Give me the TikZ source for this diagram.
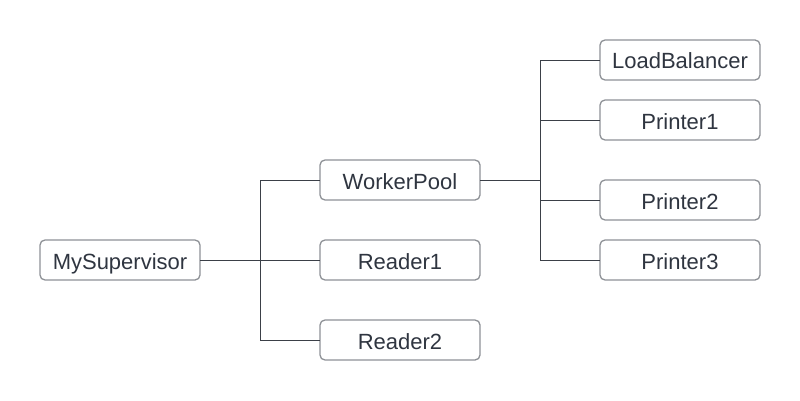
\documentclass[tikz,border=0pt]{standalone}
\usepackage{fontspec}
\setmainfont{Liberation Sans}
\usetikzlibrary{positioning}
\definecolor{boxline}{HTML}{8E9196}
\definecolor{wirecol}{HTML}{3B4048}
\definecolor{labcol}{HTML}{2F3540}

\begin{document}
\begin{tikzpicture} [x=1pt,y=1pt,font=\fontsize{22}{24}\selectfont]

\tikzstyle{proc}=[draw=boxline,line width=1.3pt,rounded corners=5pt,
  minimum width=160pt,minimum height=40pt,inner sep=0pt,outer sep=0pt,
  text height=18pt,text depth=0pt,text=labcol]
\tikzstyle{wire}=[draw=wirecol,line width=1pt]

 \useasboundingbox (0,0) rectangle (800,400);

 \node[proc] (sup) at (120,140) {MySupervisor};
 \node[proc] (reader1) [right=120pt of sup] {Reader1};
 \node[proc] (pool) [above=40pt of reader1] {WorkerPool};
 \node[proc] (reader2) [below=40pt of reader1] {Reader2};

 \node[proc] (p3) [right=120pt of reader1] {Printer3};
 \node[proc] (p2) [above=20pt of p3] {Printer2};
 \node[proc] (p1) [above=40pt of p2] {Printer1};
 \node[proc] (lb) [above=20pt of p1] {LoadBalancer};

 \coordinate (t1) at (260,140);
 \coordinate (t2) at (540,220);

 \draw[wire] (sup) -- (reader1);
 \draw[wire] (pool.west) -| (t1 |- reader2.west) -- (reader2.west);

 \draw[wire] (pool) -- (t2);
 \draw[wire] (lb.west) -| (t2 |- p3.west) -- (p3.west);
 \draw[wire] (t2 |- p1.west) -- (p1.west);
 \draw[wire] (t2 |- p2.west) -- (p2.west);
\end{tikzpicture}
\end{document}
